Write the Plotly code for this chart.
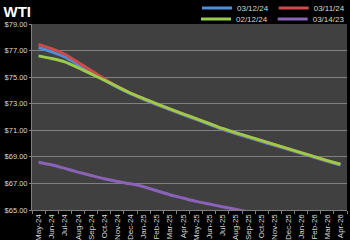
import plotly.graph_objects as go

months = ["May-24", "Jun-24", "Jul-24", "Aug-24", "Sep-24", "Oct-24", "Nov-24", "Dec-24",
          "Jan-25", "Feb-25", "Mar-25", "Apr-25", "May-25", "Jun-25", "Jul-25", "Aug-25",
          "Sep-25", "Oct-25", "Nov-25", "Dec-25", "Jan-26", "Feb-26", "Mar-26", "Apr-26"]

s_031224 = [77.23, 76.90, 76.52, 75.95, 75.35, 74.80, 74.25, 73.75, 73.33, 72.93, 72.55, 72.18,
            71.82, 71.45, 71.08, 70.76, 70.46, 70.16, 69.86, 69.56, 69.26, 68.96, 68.66, 68.38]
s_031124 = [77.47, 77.15, 76.72, 76.12, 75.50, 74.88, 74.30, 73.80, 73.38, 72.98, 72.60, 72.23,
            71.87, 71.50, 71.13, 70.81, 70.51, 70.21, 69.91, 69.61, 69.31, 69.01, 68.71, 68.43]
s_021224 = [76.60, 76.40, 76.15, 75.72, 75.25, 74.77, 74.28, 73.80, 73.39, 72.99, 72.61, 72.24,
            71.88, 71.51, 71.14, 70.82, 70.52, 70.22, 69.92, 69.62, 69.32, 69.02, 68.72, 68.44]
s_031423 = [68.60, 68.40, 68.13, 67.85, 67.60, 67.35, 67.15, 66.97, 66.75, 66.45, 66.15, 65.90,
            65.65, 65.45, 65.25, 65.05, 64.85, 64.65, 64.45, 64.25, 64.05, 63.85, 63.65, 63.45]

y_ticks = [65, 67, 69, 71, 73, 75, 77, 79]
y_labels = ["$65.00", "$67.00", "$69.00", "$71.00", "$73.00", "$75.00", "$77.00", "$79.00"]

# (name, values, colour, legend, rank)
series = [
    ("03/14/23", s_031423, "#8A63B8", "legend2", 2),
    ("03/12/24", s_031224, "#4F8ED6", "legend", 1),
    ("03/11/24", s_031124, "#D04A4A", "legend", 2),
    ("02/12/24", s_021224, "#9BCB4A", "legend2", 1),
]

fig = go.Figure()
for name, vals, col, lg, rank in series:
    fig.add_trace(go.Scatter(x=months, y=vals, name=name, mode="lines",
                             line=dict(color=col, width=3, shape="spline", smoothing=0.6),
                             legend=lg, legendrank=rank))

legend_common = dict(orientation="h", xanchor="right", yanchor="middle",
                     xref="container", yref="container", x=1.0,
                     font=dict(family="Liberation Sans", size=8, color="#d9d9d9"),
                     bgcolor="rgba(0,0,0,0)", itemwidth=30, traceorder="normal",
                     tracegroupgap=0, itemclick=False)

fig.update_layout(
    width=350, height=240,
    margin=dict(l=32, r=3, t=24, b=30, autoexpand=False),
    paper_bgcolor="#000000",
    plot_bgcolor="#404040",
    showlegend=True,
    legend=dict(**legend_common, y=0.967),
    legend2=dict(**legend_common, y=0.921),
    title=dict(text="<b>WTI</b>", x=0.01, xanchor="left", y=0.95, yanchor="middle",
               font=dict(family="Liberation Sans", size=15, color="#ffffff")),
    xaxis=dict(type="category", range=[-0.5, 23.5], tickangle=-90,
               tickfont=dict(family="Liberation Sans", size=8, color="#d9d9d9"),
               showgrid=False, tickson="boundaries", ticks="outside", ticklen=3,
               tickcolor="#808080", showline=True, linecolor="#808080", linewidth=1),
    yaxis=dict(range=[65, 79], tickvals=y_ticks, ticktext=y_labels,
               tickfont=dict(family="Liberation Sans", size=7.5, color="#d9d9d9"),
               showgrid=True, gridcolor="#808080", gridwidth=1, zeroline=False,
               ticks="outside", ticklen=2, tickcolor="#808080",
               showline=True, linecolor="#808080", linewidth=1),
)

fig.write_html("out.html")
